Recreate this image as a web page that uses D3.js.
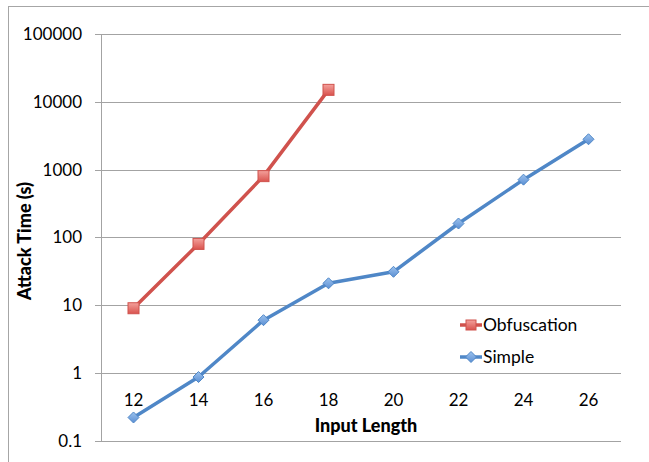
<!DOCTYPE html>
<html><head><meta charset="utf-8">
<script src="https://cdn.jsdelivr.net/npm/d3@7"></script>
<style>body{margin:0;background:#fff;} svg{display:block;} text{font-family:Lato,"Open Sans",sans-serif;}</style>
</head><body><svg id="c" width="649" height="462"></svg>
<script>
const categories = ["12","14","16","18","20","22","24","26"];
const obfuscation = [9, 80, 800, 15000, null, null, null, null];
const simple = [0.22, 0.87, 6, 21, 31, 160, 710, 2800];
const yTicks = [0.1, 1, 10, 100, 1000, 10000, 100000];
const yTickLabels = ["0.1","1","10","100","1000","10000","100000"];
const seriesNames = ["Obfuscation","Simple"];

const svg = d3.select("#c");
const defs = svg.append("defs");
function grad(id, c1, c2){
  const g = defs.append("linearGradient").attr("id",id).attr("x1",0).attr("y1",0).attr("x2",0).attr("y2",1);
  g.append("stop").attr("offset","0%").attr("stop-color",c1);
  g.append("stop").attr("offset","100%").attr("stop-color",c2);
}
grad("gr","#f4a19c","#d9534e");
grad("gb","#9cc2ee","#5b8fd3");

// outer frame
svg.append("rect").attr("x",8.5).attr("y",6.5).attr("width",700).attr("height",500)
  .attr("fill","none").attr("stroke","#a6a6a6").attr("stroke-width",1);

const L=101, R=621, T=34, B=440.7;
const x = d3.scaleBand().domain(categories).range([L,R]).padding(0);
const y = d3.scaleLog().domain([0.1,100000]).range([B,T]);
const cx = d => x(d)+x.bandwidth()/2;

// gridlines
const grid = svg.append("g");
yTicks.forEach((t,i)=>{
  const yy = Math.round(y(t))+0.5;
  grid.append("line").attr("x1",95).attr("x2",R).attr("y1",yy).attr("y2",yy)
    .attr("stroke","#a3a3a3").attr("stroke-width",1);
  grid.append("text").attr("x",82).attr("y",y(t)).attr("dy","0.36em")
    .attr("text-anchor","end").attr("font-size",17).attr("fill","#000").text(yTickLabels[i]);
});
grid.append("line").attr("x1",L+0.5).attr("x2",L+0.5).attr("y1",T).attr("y2",B+0.5)
  .attr("stroke","#a3a3a3");

// x tick labels at y=1 crossing
categories.forEach(c=>{
  svg.append("text").attr("x",cx(c)).attr("y",y(1)+33).attr("text-anchor","middle")
    .attr("font-size",17).attr("fill","#000").text(c);
});

// titles
svg.append("text").attr("x",366).attr("y",432).attr("text-anchor","middle")
  .attr("font-size",18).attr("font-weight","900").text("Input Length");
svg.append("text").attr("transform","translate(31,241) rotate(-90)").attr("text-anchor","middle")
  .attr("font-size",18).attr("font-weight","900").text("Attack Time (s)");

const line = d3.line().defined(d=>d.v!=null).x(d=>cx(d.c)).y(d=>y(d.v));

function drawSeries(vals, color, gradId, shape){
  const data = categories.map((c,i)=>({c, v: vals[i]}));
  svg.append("path").datum(data).attr("d",line).attr("fill","none")
    .attr("stroke",color).attr("stroke-width",3.5).attr("stroke-linejoin","round");
  const pts = data.filter(d=>d.v!=null);
  pts.forEach(d=>{
    drawMarker(cx(d.c), y(d.v), color, gradId, shape);
  });
}
function drawMarker(px, py, color, gradId, shape){
  if(shape==="square"){
    svg.append("rect").attr("x",px-5.5).attr("y",py-5.5).attr("width",11).attr("height",11)
      .attr("fill","url(#"+gradId+")").attr("stroke",color).attr("stroke-width",1);
  } else {
    svg.append("path").attr("d",`M${px},${py-5.5}L${px+5.5},${py}L${px},${py+5.5}L${px-5.5},${py}Z`)
      .attr("fill","url(#"+gradId+")").attr("stroke",color).attr("stroke-width",1);
  }
}

drawSeries(obfuscation, "#d0524d", "gr", "square");
drawSeries(simple, "#4f87c7", "gb", "diamond");

// legend
const leg = [{n:seriesNames[0], c:"#d0524d", g:"gr", s:"square", y:325},
             {n:seriesNames[1], c:"#4f87c7", g:"gb", s:"diamond", y:357}];
leg.forEach(l=>{
  svg.append("line").attr("x1",460).attr("x2",482).attr("y1",l.y).attr("y2",l.y)
    .attr("stroke",l.c).attr("stroke-width",3.5);
  if(l.s==="square"){
    svg.append("rect").attr("x",466).attr("y",l.y-5).attr("width",10).attr("height",10)
      .attr("fill","url(#"+l.g+")").attr("stroke",l.c);
  } else {
    drawMarker(471, l.y, l.c, l.g, "diamond");
  }
  svg.append("text").attr("x",483).attr("y",l.y).attr("dy","0.36em").attr("font-size",17.5).text(l.n);
});
</script></body></html>
